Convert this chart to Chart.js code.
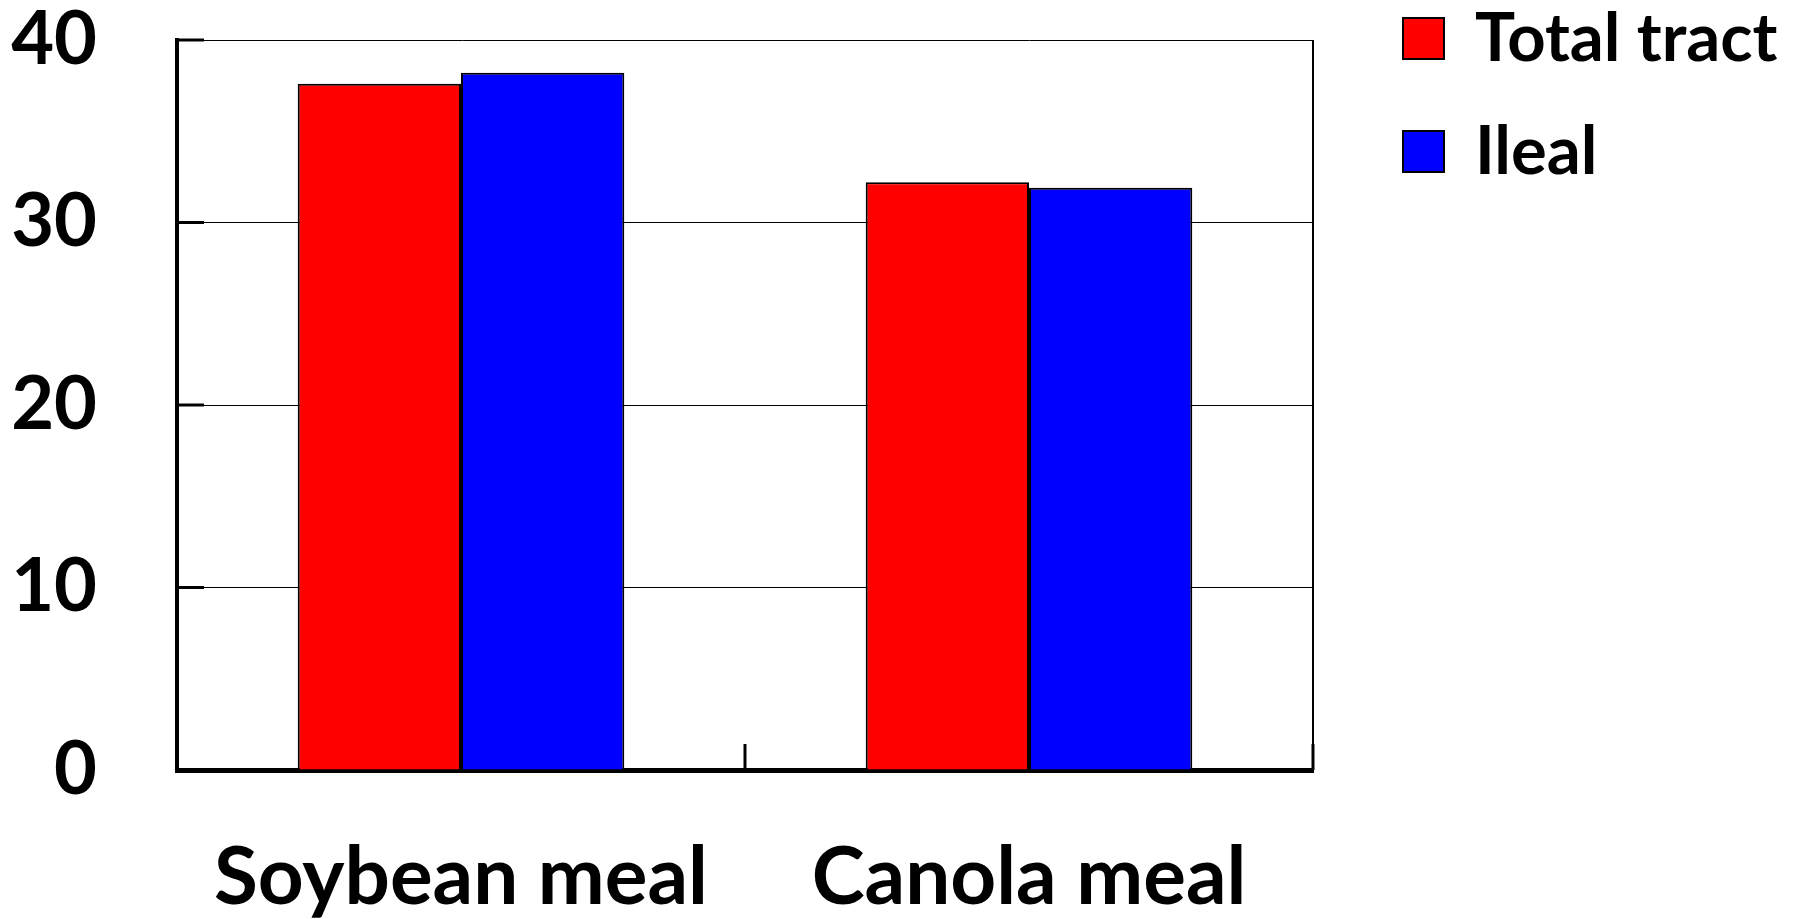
<!DOCTYPE html>
<html>
<head>
<meta charset="utf-8">
<title>Digestibility</title>
<script src="https://cdn.jsdelivr.net/npm/chart.js@4.4.1/dist/chart.umd.min.js"></script>
<style>
  html, body { margin: 0; padding: 0; background: #fff; }
  #wrap { width: 1794px; height: 919px; position: relative; }
</style>
</head>
<body>
<div id="wrap"><canvas id="chart"></canvas></div>
<script>
const categories = ["Soybean meal", "Canola meal"];
const totalTract = [37.6, 32.2];
const ileal = [38.2, 31.9];
const yTickValues = [0, 10, 20, 30, 40];

const seriesNames = ["Total tract", "Ileal"];
const seriesColors = ["#ff0000", "#0000ff"];

// short inward tick marks, the thin right frame line and the legend on the right
const frameAndLegend = {
  id: "frameAndLegend",
  afterDatasetsDraw(chart) {
    const ctx = chart.ctx;
    const area = chart.chartArea;
    const x = chart.scales.x;
    const y = chart.scales.y;

    ctx.save();
    ctx.strokeStyle = "#000";

    // right edge of the plot
    ctx.lineWidth = 2;
    ctx.beginPath();
    ctx.moveTo(area.right, area.top);
    ctx.lineTo(area.right, area.bottom);
    ctx.stroke();

    // y ticks point into the plot
    ctx.lineWidth = 3;
    yTickValues.forEach(function (v) {
      const py = y.getPixelForValue(v);
      ctx.beginPath();
      ctx.moveTo(area.left, py);
      ctx.lineTo(area.left + 27, py);
      ctx.stroke();
    });

    // x ticks sit on the category boundaries
    const step = x.getPixelForValue(1) - x.getPixelForValue(0);
    for (let i = 0; i <= categories.length; i++) {
      const px = x.getPixelForValue(0) - step / 2 + i * step;
      ctx.beginPath();
      ctx.moveTo(px, area.bottom);
      ctx.lineTo(px, area.bottom - 26);
      ctx.stroke();
    }

    // legend
    const boxLeft = area.right + 90;
    ctx.font = "bold 67px Lato";
    ctx.textBaseline = "middle";
    ctx.textAlign = "left";
    chart.data.datasets.forEach(function (ds, i) {
      const top = 18 + i * 113;
      ctx.fillStyle = ds.backgroundColor;
      ctx.fillRect(boxLeft, top, 41, 41);
      ctx.lineWidth = 2;
      ctx.strokeRect(boxLeft, top, 41, 41);
      ctx.fillStyle = "#000";
      ctx.fillText(ds.label, boxLeft + 72, top + 21);
    });
    ctx.restore();
  },
};

const ctx = document.getElementById("chart").getContext("2d");
const myChart = new Chart(ctx, {
  type: "bar",
  data: {
    labels: categories,
    datasets: [
      {
        label: seriesNames[0],
        data: totalTract,
        backgroundColor: seriesColors[0],
        borderColor: "#000",
        borderWidth: 2,
      },
      {
        label: seriesNames[1],
        data: ileal,
        backgroundColor: seriesColors[1],
        borderColor: "#000",
        borderWidth: 2,
      },
    ],
  },
  options: {
    responsive: true,
    maintainAspectRatio: false,
    animation: false,
    layout: {
      padding: { left: 11, right: 481, top: 40, bottom: 0 },
    },
    datasets: {
      bar: {
        barPercentage: 1,
        categoryPercentage: 0.575,
      },
    },
    plugins: {
      legend: { display: false },
      tooltip: { enabled: false },
    },
    scales: {
      x: {
        grid: { display: false, drawTicks: false },
        border: { display: true, color: "#000", width: 5 },
        afterFit: function (scale) {
          scale.height = 149;
          scale.paddingLeft = 0;
          scale.paddingRight = 0;
        },
        ticks: {
          color: "#000",
          padding: 60,
          font: { family: "Lato", weight: "bold", size: 80, lineHeight: 1.2 },
        },
      },
      y: {
        min: 0,
        max: 40,
        afterBuildTicks: function (scale) {
          scale.ticks = yTickValues.map(function (v) {
            return { value: v };
          });
        },
        afterFit: function (scale) {
          scale.width = 166;
          scale.paddingTop = 0;
          scale.paddingBottom = 0;
        },
        grid: { color: "#000", lineWidth: 1, drawTicks: false },
        border: { display: true, color: "#000", width: 4 },
        ticks: {
          color: "#000",
          padding: 80,
          font: { family: "Lato", weight: "bold", size: 74, lineHeight: 1 },
        },
      },
    },
  },
  plugins: [frameAndLegend],
});
</script>
</body>
</html>
